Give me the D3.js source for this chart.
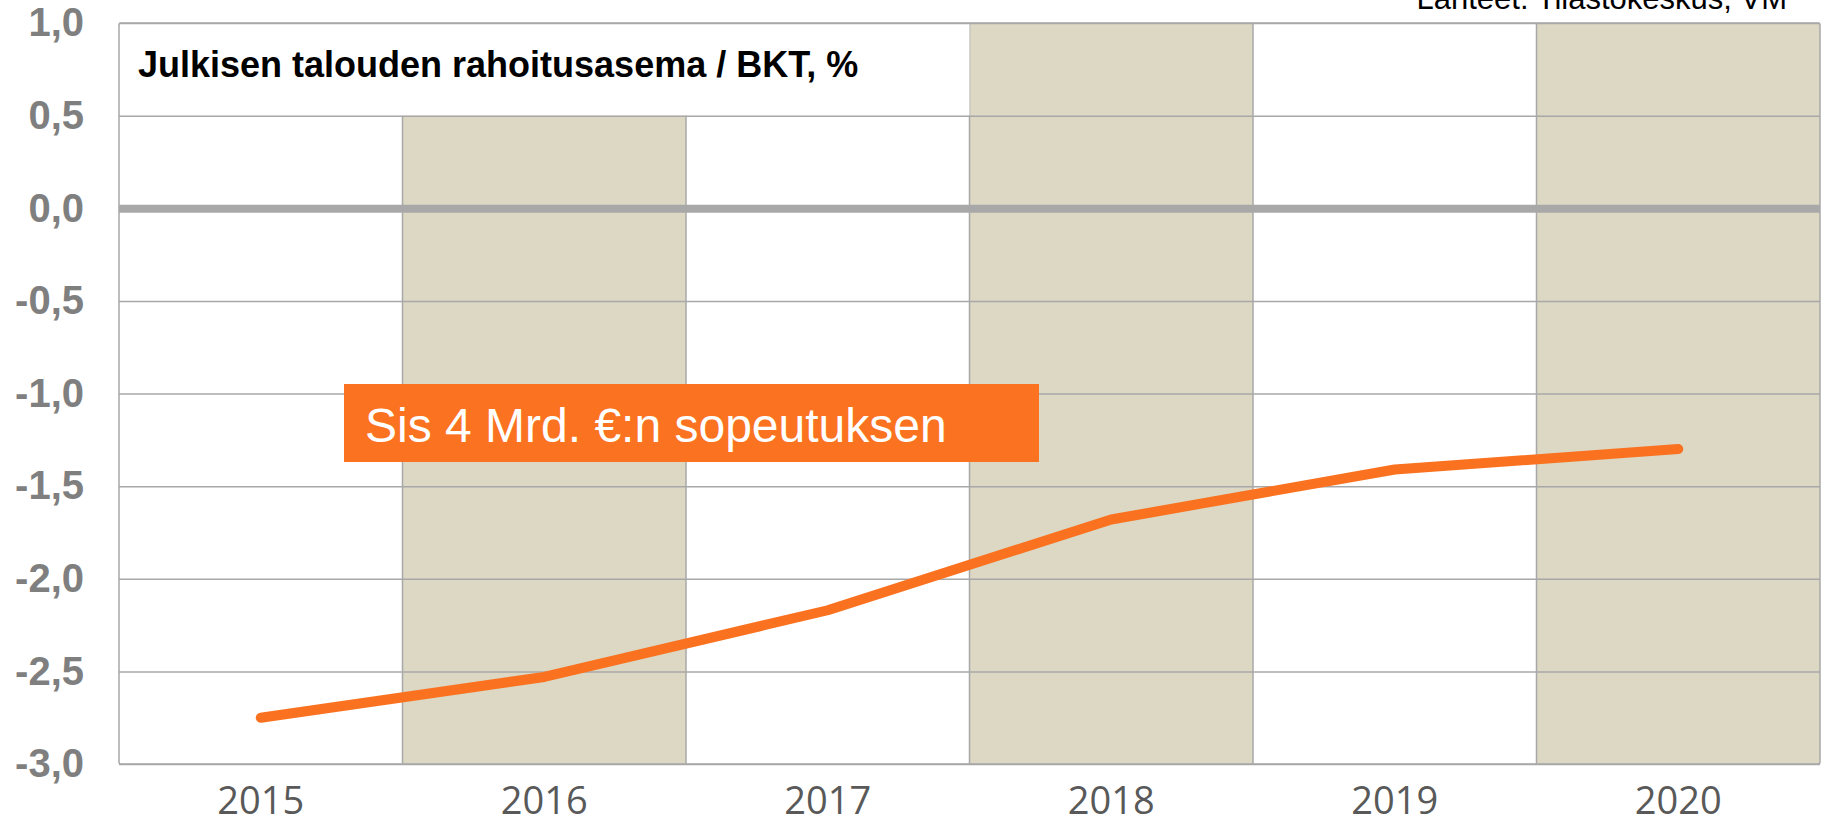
<!DOCTYPE html>
<html>
<head>
<meta charset="utf-8">
<script src="https://cdn.jsdelivr.net/npm/d3@7"></script>
<style>
    body { margin: 0; background: #fff; }
    svg { display: block; }
</style>
</head>
<body>
<div id="chart"></div>
<script>
// data
let years = ['2015', '2016', '2017', '2018', '2019', '2020'];
let balance = [-2.75, -2.53, -2.17, -1.68, -1.41, -1.30];
let shadedYears = ['2016', '2018', '2020'];
let yTicks = [1, 0.5, 0, -0.5, -1, -1.5, -2, -2.5, -3];
let titleText = 'Julkisen talouden rahoitusasema / BKT, %';
let noteText = 'Sis 4 Mrd. €:n sopeutuksen';
let sourceText = 'Lähteet: Tilastokeskus, VM';

let W = 1831, H = 824;
let margin = {top: 23, right: 11, bottom: 60, left: 119};

let svg = d3.select('#chart').append('svg')
    .attr('width', W)
    .attr('height', H);

let x = d3.scaleBand()
    .domain(years)
    .range([margin.left, W - margin.right])
    .padding(0);

let y = d3.scaleLinear()
    .domain([-3, 1])
    .range([H - margin.bottom, margin.top]);

let fmt = d => d3.format('.1f')(d).replace('.', ',').replace('\u2212', '-');

// shaded columns
svg.selectAll('.band')
    .data(shadedYears)
    .enter().append('rect')
    .attr('class', 'band')
    .attr('x', d => x(d))
    .attr('y', y(1))
    .attr('width', x.bandwidth())
    .attr('height', y(-3) - y(1))
    .attr('fill', '#dcd8c4');

// column dividers
svg.selectAll('.vline')
    .data(years.slice(1))
    .enter().append('line')
    .attr('class', 'vline')
    .attr('x1', d => x(d))
    .attr('x2', d => x(d))
    .attr('y1', y(1))
    .attr('y2', y(-3))
    .attr('stroke', '#a8a8a8')
    .attr('stroke-width', 1.5);

// white title box over the top row (up to 2018)
svg.append('rect')
    .attr('x', x(years[0]))
    .attr('y', y(1))
    .attr('width', x('2018') - x(years[0]))
    .attr('height', y(0.5) - y(1))
    .attr('fill', '#fff');

// horizontal grid lines through an axis
let grid = svg.append('g')
    .attr('transform', `translate(${margin.left},0)`)
    .call(d3.axisLeft(y).tickValues(yTicks).tickSize(-(W - margin.left - margin.right)).tickFormat(''));
grid.select('.domain').remove();
grid.selectAll('line')
    .attr('stroke', '#a8a8a8')
    .attr('stroke-width', d => d === 0 ? 8 : 1.5);

// plot frame
svg.append('rect')
    .attr('x', margin.left)
    .attr('y', y(1))
    .attr('width', W - margin.left - margin.right)
    .attr('height', y(-3) - y(1))
    .attr('rx', 2)
    .attr('fill', 'none')
    .attr('stroke', '#a8a8a8')
    .attr('stroke-width', 1.5);

// y labels
let yAxis = svg.append('g')
    .attr('transform', 'translate(84,0)')
    .call(d3.axisLeft(y).tickValues(yTicks).tickSize(0).tickPadding(0).tickFormat(fmt));
yAxis.select('.domain').remove();
yAxis.selectAll('text')
    .attr('fill', '#7f7f7f')
    .style('font-family', '"Liberation Sans", Arial, sans-serif')
    .style('font-weight', 'bold')
    .style('font-size', '40px');

// x labels
let xAxis = svg.append('g')
    .attr('transform', `translate(0,${H - 10})`)
    .call(d3.axisBottom(x).tickSize(0).tickPadding(0));
xAxis.select('.domain').remove();
xAxis.selectAll('text')
    .attr('dy', 0)
    .attr('fill', '#595959')
    .style('font-family', '"Open Sans", sans-serif')
    .style('font-size', '38px');

// title
svg.append('text')
    .attr('x', 138)
    .attr('y', 77)
    .text(titleText)
    .attr('fill', '#000')
    .style('font-family', '"Liberation Sans", Arial, sans-serif')
    .style('font-weight', 'bold')
    .style('font-size', '36px');

// source, mostly cut off at the top as in the original
svg.append('text')
    .attr('x', 1787)
    .attr('y', 9)
    .attr('text-anchor', 'end')
    .text(sourceText)
    .attr('fill', '#000')
    .style('font-family', '"Liberation Sans", Arial, sans-serif')
    .style('font-size', '31px');

// the line
let line = d3.line()
    .x((d, i) => x(years[i]) + x.bandwidth() / 2)
    .y(d => y(d));

svg.append('path')
    .datum(balance)
    .attr('d', line)
    .attr('fill', 'none')
    .attr('stroke', '#fa721f')
    .attr('stroke-width', 10)
    .attr('stroke-linecap', 'round')
    .attr('stroke-linejoin', 'round');

// note box
svg.append('rect')
    .attr('x', 344)
    .attr('y', 384)
    .attr('width', 695)
    .attr('height', 78)
    .attr('fill', '#fb7320');

svg.append('text')
    .attr('x', 365)
    .attr('y', 442)
    .text(noteText)
    .attr('fill', '#fff')
    .style('font-family', '"Liberation Sans", Arial, sans-serif')
    .style('font-size', '48px');
</script>
</body>
</html>
